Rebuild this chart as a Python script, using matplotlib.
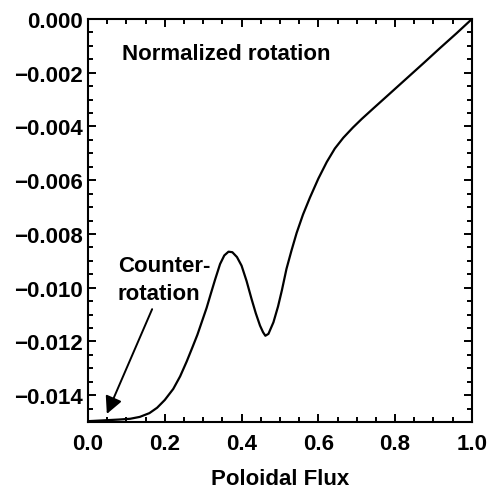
import numpy as np
import matplotlib
matplotlib.use("Agg")
import matplotlib.pyplot as plt
from matplotlib.ticker import MultipleLocator, FuncFormatter

# values
flux = [0.0, 0.04, 0.08, 0.11, 0.135, 0.16, 0.18, 0.20, 0.222, 0.24, 0.257,
        0.272, 0.285, 0.297, 0.309, 0.320, 0.331, 0.344, 0.355, 0.366, 0.376,
        0.388, 0.40, 0.413, 0.426, 0.437, 0.448, 0.456, 0.462, 0.470, 0.483,
        0.495, 0.505, 0.517, 0.53, 0.5435, 0.56, 0.578, 0.60, 0.622, 0.643,
        0.665, 0.69, 0.713, 0.743, 0.785, 0.83, 0.875, 0.917, 0.96, 1.0]
rotation = [-0.01497, -0.01494, -0.01491, -0.01488, -0.01481, -0.01467, -0.01447,
            -0.01418, -0.01377, -0.01330, -0.01275, -0.01222, -0.01175, -0.01125,
            -0.01075, -0.01022, -0.00970, -0.00912, -0.00880, -0.00866, -0.00868,
            -0.00886, -0.00918, -0.00975, -0.01042, -0.01095, -0.01141, -0.01166,
            -0.01179, -0.01172, -0.01129, -0.01070, -0.01010, -0.00930, -0.00862,
            -0.00796, -0.00728, -0.00665, -0.00594, -0.00532, -0.00482, -0.00442,
            -0.00404, -0.00372, -0.00333, -0.00279, -0.00221, -0.00163, -0.00108,
            -0.00053, 0.0]

plt.rcParams["font.family"] = ["Liberation Sans", "DejaVu Sans"]
plt.rcParams["font.weight"] = "bold"
plt.rcParams["font.size"] = 16


def fmt_y(v, pos):
    s = f"{v:.3f}"
    if s == "-0.000":
        s = "0.000"
    return s.replace("-", "\u2212")


fig = plt.figure(figsize=(4.89, 4.89), dpi=100)
ax = fig.add_axes([0.18, 0.135, 0.785, 0.824])

ax.plot(flux, rotation, color="black", linewidth=1.6)

ax.set_xlim(0, 1)
ax.set_ylim(-0.015, 0)
ax.xaxis.set_major_locator(MultipleLocator(0.2))
ax.xaxis.set_minor_locator(MultipleLocator(0.05))
ax.yaxis.set_major_locator(MultipleLocator(0.002))
ax.yaxis.set_minor_locator(MultipleLocator(0.0005))
ax.xaxis.set_major_formatter(FuncFormatter(lambda v, p: f"{v:.1f}"))
ax.yaxis.set_major_formatter(FuncFormatter(fmt_y))
ax.tick_params(which="both", direction="in", top=True, right=True, width=1.4)
ax.tick_params(which="major", length=6)
ax.tick_params(which="minor", length=3.5)
ax.tick_params(axis="x", which="major", pad=8)
ax.tick_params(axis="y", which="major", pad=4)
for sp in ax.spines.values():
    sp.set_linewidth(1.5)

ax.set_xlabel("Poloidal Flux", fontweight="bold", labelpad=10)

ax.text(0.089, -0.00149, "Normalized rotation", fontweight="bold",
        ha="left", va="baseline")
ax.text(0.078, -0.00938, "Counter-", fontweight="bold", ha="left", va="baseline")
ax.text(0.078, -0.01043, "rotation", fontweight="bold", ha="left", va="baseline")
ax.annotate("", xy=(0.049, -0.0147), xytext=(0.167, -0.0108),
            arrowprops=dict(arrowstyle="-|>", color="black", lw=1.4,
                            mutation_scale=26, shrinkA=0, shrinkB=0))

fig.savefig("out.png", dpi=100)
